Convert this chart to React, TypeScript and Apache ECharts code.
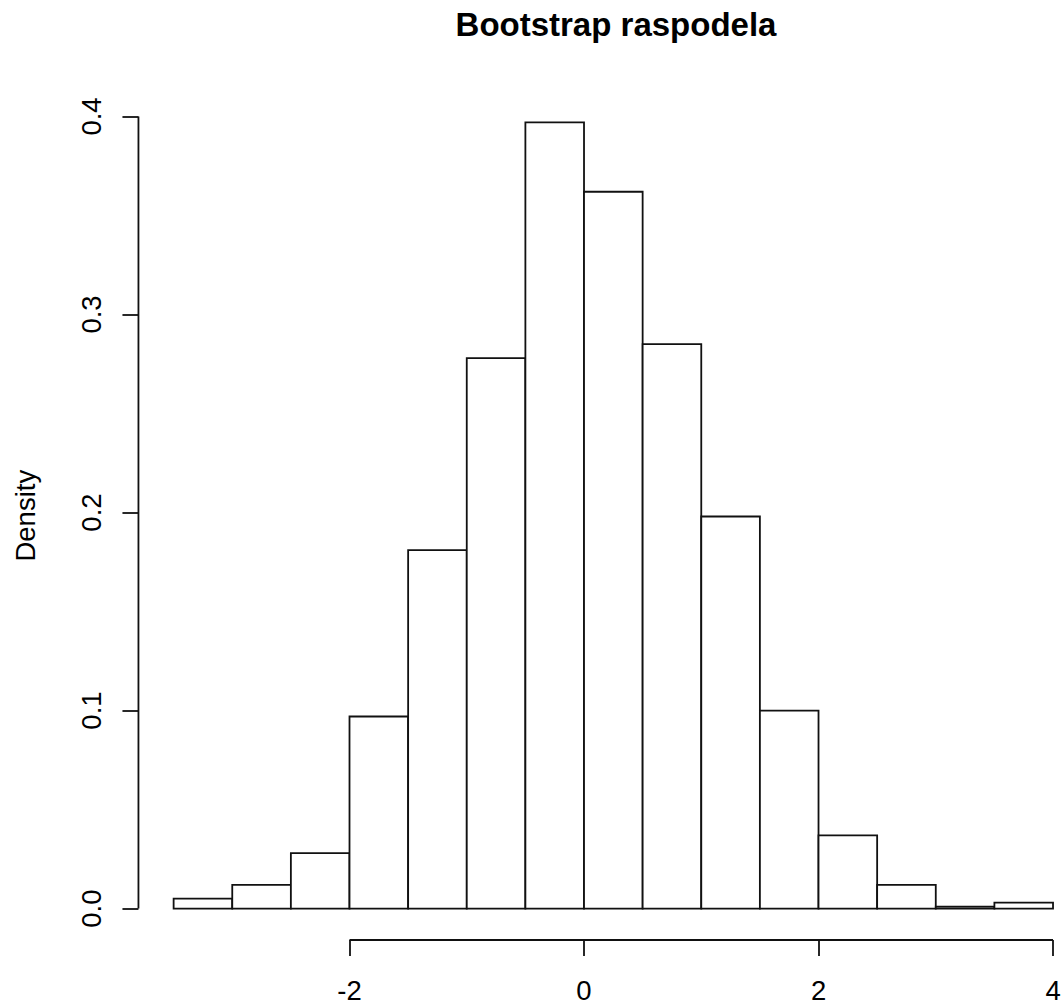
import React, { useEffect, useRef } from "react";
import * as echarts from "echarts";

// Histogram bins (breaks every 0.5) and densities
const binStarts = [-3.5, -3.0, -2.5, -2.0, -1.5, -1.0, -0.5, 0.0, 0.5, 1.0, 1.5, 2.0, 2.5, 3.0, 3.5];
const binEnds = [-3.0, -2.5, -2.0, -1.5, -1.0, -0.5, 0.0, 0.5, 1.0, 1.5, 2.0, 2.5, 3.0, 3.5, 4.0];
const densities = [0.005, 0.012, 0.028, 0.097, 0.181, 0.278, 0.397, 0.362, 0.285, 0.198, 0.1, 0.037, 0.012, 0.001, 0.003];

// Axis ticks and limits
const xTicks = [-2, 0, 2, 4];
const yTicks = [0, 0.1, 0.2, 0.3, 0.4];
const xLimits = [-3.8, 4.3];
const yLimits = [-0.01587, 0.41267];

const titleText = "Bootstrap raspodela";
const yTitle = "Density";

const FONT = "'Liberation Sans', Arial, Helvetica, sans-serif";
const INK = "#111111";
const LW = 1.8;

export default function App() {
  const ref = useRef<HTMLDivElement>(null);

  useEffect(() => {
    if (!ref.current) return;
    document.body.style.overflow = "hidden";
    const chart = echarts.init(ref.current, undefined, { renderer: "svg" });

    const barData = binStarts.map((s, i) => [s, binEnds[i], densities[i]]);

    const option: any = {
      animation: false,
      backgroundColor: "#ffffff",
      textStyle: { fontFamily: FONT },
      grid: { left: 138.45, top: 91.4, width: 949.75, height: 849, containLabel: false },
      graphic: [
        {
          type: "text",
          x: 616,
          y: 24,
          style: {
            text: titleText,
            fontFamily: FONT,
            fontSize: 33,
            fontWeight: "bold",
            fill: "#000",
            textAlign: "center",
            textVerticalAlign: "middle",
          },
        },
      ],
      xAxis: {
        type: "value",
        min: xLimits[0],
        max: xLimits[1],
        axisLine: { show: false, onZero: false },
        splitLine: { show: false },
        axisTick: {
          show: true,
          customValues: xTicks,
          length: 16,
          lineStyle: { color: INK, width: LW },
        },
        axisLabel: {
          show: true,
          customValues: xTicks,
          margin: 36,
          fontSize: 27.5,
          fontFamily: FONT,
          color: "#000",
          formatter: (v: number) => String(v),
        },
      },
      yAxis: {
        type: "value",
        min: yLimits[0],
        max: yLimits[1],
        name: yTitle,
        nameLocation: "middle",
        nameGap: 99,
        nameRotate: 90,
        nameTextStyle: { fontSize: 27.5, fontFamily: FONT, color: "#000" },
        axisLine: { show: false, onZero: false },
        splitLine: { show: false },
        axisTick: {
          show: true,
          customValues: yTicks,
          length: 16,
          lineStyle: { color: INK, width: LW },
        },
        axisLabel: {
          show: true,
          customValues: yTicks,
          rotate: 90,
          margin: 33,
          fontSize: 27.5,
          fontFamily: FONT,
          color: "#000",
          formatter: (v: number) => v.toFixed(1),
        },
      },
      series: [
        {
          type: "custom",
          name: "hist",
          clip: false,
          data: barData,
          encode: { x: [0, 1], y: 2 },
          renderItem: (params: any, api: any) => {
            const s = api.value(0);
            const e = api.value(1);
            const d = api.value(2);
            const p0 = api.coord([s, 0]);
            const p1 = api.coord([e, d]);
            return {
              type: "rect",
              shape: { x: p0[0], y: p1[1], width: p1[0] - p0[0], height: p0[1] - p1[1] },
              style: { fill: "#ffffff", stroke: INK, lineWidth: LW },
            };
          },
        },
        {
          type: "custom",
          name: "axes",
          clip: false,
          silent: true,
          data: [[0, 0]],
          renderItem: (params: any, api: any) => {
            const xa = api.coord([xTicks[0], yLimits[0]]);
            const xb = api.coord([xTicks[xTicks.length - 1], yLimits[0]]);
            const ya = api.coord([xLimits[0], yTicks[0]]);
            const yb = api.coord([xLimits[0], yTicks[yTicks.length - 1]]);
            return {
              type: "group",
              children: [
                {
                  type: "line",
                  shape: { x1: xa[0], y1: xa[1], x2: xb[0], y2: xb[1] },
                  style: { stroke: INK, lineWidth: LW },
                },
                {
                  type: "line",
                  shape: { x1: ya[0], y1: ya[1], x2: yb[0], y2: yb[1] },
                  style: { stroke: INK, lineWidth: LW },
                },
              ],
            };
          },
        },
      ],
    };

    chart.setOption(option);
    return () => chart.dispose();
  }, []);

  return (
    <div
      ref={ref}
      style={{ position: "fixed", left: 0, top: 0, width: 1100, height: 1004, background: "#fff" }}
    />
  );
}
